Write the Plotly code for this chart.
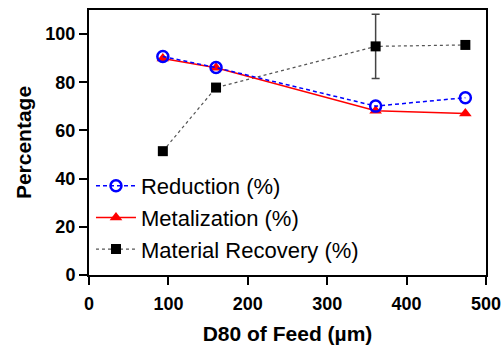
import plotly.graph_objects as go

d80 = [93, 160, 361, 474]
reduction = [90.7, 86.1, 70.1, 73.6]
metalization = [89.9, 86.0, 68.2, 67.0]
recovery = [51.4, 77.8, 94.9, 95.5]
recovery_err = [0, 0, 13.3, 0]

fig = go.Figure()
fig.add_trace(go.Scatter(
    x=d80, y=recovery, name="Material Recovery (%)", mode="lines+markers",
    line=dict(color="#555555", width=1.2, dash="dot"),
    marker=dict(symbol="square", size=10, color="black"),
    error_y=dict(type="data", array=recovery_err, visible=True, color="#444444", thickness=1.5, width=4),
))
fig.add_trace(go.Scatter(
    x=d80, y=metalization, name="Metalization (%)", mode="lines+markers",
    line=dict(color="red", width=1.5),
    marker=dict(symbol="triangle-up", size=11, color="red"),
))
fig.add_trace(go.Scatter(
    x=d80, y=reduction, name="Reduction (%)", mode="lines+markers",
    line=dict(color="blue", width=1.5, dash="4px,3px"),
    marker=dict(symbol="circle-open", size=11, color="blue", line=dict(width=2.5, color="blue")),
))

fig.update_layout(
    width=501, height=345,
    margin=dict(l=89, r=15, t=10, b=70, autoexpand=False),
    paper_bgcolor="white", plot_bgcolor="white",
    font=dict(family="Arial, Liberation Sans, sans-serif", color="black"),
    showlegend=True,
    legend=dict(x=0.005, y=0.415, xanchor="left", yanchor="top", traceorder="reversed",
                bgcolor="rgba(0,0,0,0)", font=dict(size=22, color="black"),
                itemwidth=40, tracegroupgap=0),
    xaxis=dict(range=[0, 500], tickvals=[0, 100, 200, 300, 400, 500], automargin=False,
               showgrid=False, zeroline=False, showline=True, linecolor="black", linewidth=2,
               mirror=True, ticks="outside", ticklen=8, tickwidth=2, tickcolor="black",
               tickfont=dict(size=18, weight="bold"), ticklabeloverflow="allow",
               ticklabelstandoff=3,
               title=dict(text="D80 of Feed (µm)", font=dict(size=21, weight="bold"), standoff=16)),
    yaxis=dict(range=[0, 110], tickvals=[0, 20, 40, 60, 80, 100], automargin=False,
               showgrid=False, zeroline=False, showline=True, linecolor="black", linewidth=2,
               mirror=True, ticks="outside", ticklen=8, tickwidth=2, tickcolor="black",
               tickfont=dict(size=18, weight="bold"),
               title=dict(text="Percentage", font=dict(size=21, weight="bold"), standoff=8)),
)
fig.write_html("out.html")
